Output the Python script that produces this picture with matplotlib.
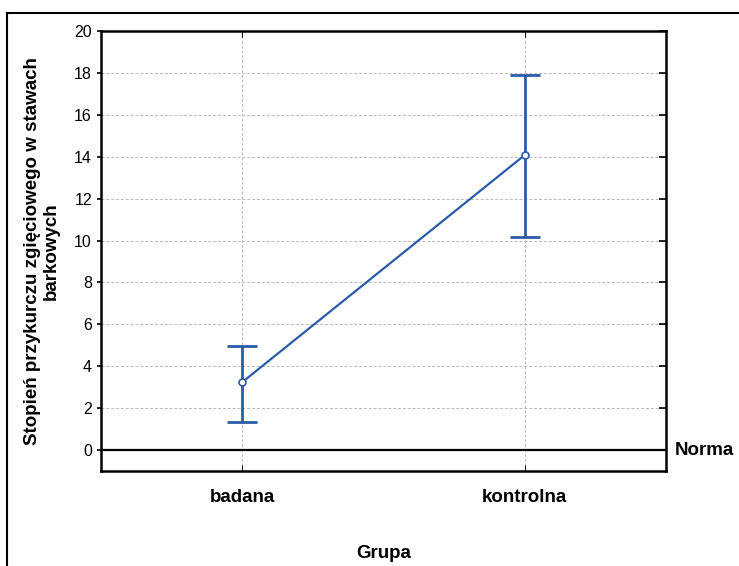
import matplotlib.pyplot as plt
from matplotlib.lines import Line2D

plt.rcParams['font.family'] = ['Liberation Sans', 'DejaVu Sans']

# data
groups = ["badana", "kontrolna"]
means = [3.24, 14.08]
upper = [4.97, 17.9]
lower = [1.33, 10.17]

err_lo = [m - l for m, l in zip(means, lower)]
err_hi = [u - m for u, m in zip(upper, means)]
x = list(range(len(groups)))
blue = "#2a5ca8"

fig = plt.figure(figsize=(7.39, 5.66), dpi=100)
ax = fig.add_axes([101 / 739, 1 - 471 / 566, 565 / 739, 440 / 566])

# outer frame (top + left)
fig.add_artist(Line2D([7 / 739, 1], [1 - 13 / 566] * 2, color="black", lw=1.5,
                      transform=fig.transFigure))
fig.add_artist(Line2D([7 / 739] * 2, [0, 1 - 13 / 566], color="black", lw=1.5,
                      transform=fig.transFigure))

ax.errorbar(x, means, yerr=[err_lo, err_hi], fmt="none", ecolor=blue,
            elinewidth=2, capsize=11, capthick=2, zorder=3)
ax.plot(x, means, color=blue, lw=1.6, marker="o", ms=5,
        mfc="white", mec=blue, mew=1.2, zorder=4)

ax.axhline(0, color="black", lw=1.6, zorder=2)
ax.annotate("Norma", xy=(1, 0), xycoords=("axes fraction", "data"),
            xytext=(6, 0), textcoords="offset points", ha="left", va="center",
            fontsize=13.5, fontweight="bold", annotation_clip=False)

ax.set_xlim(-0.5, 1.5)
ax.set_ylim(-1, 20)
ax.set_yticks(range(0, 21, 2))
ax.set_xticks(x)
ax.set_xticklabels(groups, fontsize=13.5, fontweight="bold")
ax.tick_params(axis="y", labelsize=11.5, direction="out", length=3, right=True)
ax.tick_params(axis="x", direction="in", length=4, top=True, pad=13)
ax.tick_params(axis="y", which="both", width=1.2)
for t in ax.yaxis.get_major_ticks():
    t.tick2line.set_marker(0)  # right ticks pointing inward
    t.tick2line.set_markersize(5)

ax.grid(True, color="#b8b8b8", ls=(0, (3, 2)), lw=0.7)
ax.set_axisbelow(True)
for s in ax.spines.values():
    s.set_linewidth(1.8)

ax.set_xlabel("Grupa", fontsize=13.5, fontweight="bold", labelpad=28)
ax.set_ylabel("Stopień przykurczu zgięciowego w stawach\nbarkowych",
              fontsize=13.5, fontweight="bold", labelpad=10)

fig.savefig("out.png", dpi=100)
